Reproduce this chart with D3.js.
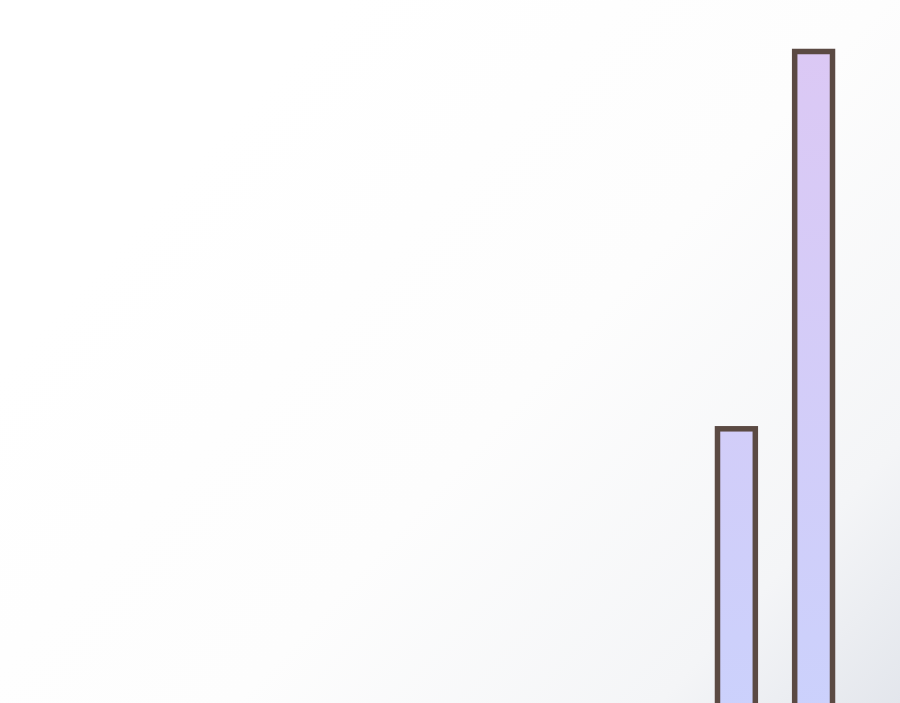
<!DOCTYPE html>
<html>
<head>
<meta charset="utf-8">
<script src="https://cdn.jsdelivr.net/npm/d3@7"></script>
<style>
html,body{margin:0;padding:0;overflow:hidden;background:#fff;}
</style>
</head>
<body>
<script>
const categories = ["A", "B"];
const values = [41.6, 95.5];

const W = 900, H = 703;
const svg = d3.select("body").append("svg").attr("width", W).attr("height", H);
const defs = svg.append("defs");

const bg = defs.append("linearGradient").attr("id", "bg")
  .attr("gradientUnits", "userSpaceOnUse")
  .attr("x1", 250).attr("y1", 100).attr("x2", 900).attr("y2", 703);
bg.append("stop").attr("offset", "0%").attr("stop-color", "#ffffff");
bg.append("stop").attr("offset", "45%").attr("stop-color", "#fdfdfd");
bg.append("stop").attr("offset", "80%").attr("stop-color", "#f4f5f7");
bg.append("stop").attr("offset", "100%").attr("stop-color", "#e3e6ec");
svg.append("rect").attr("width", W).attr("height", H).attr("fill", "url(#bg)");

const y = d3.scaleLinear().domain([0, 100]).range([720, 20]);
const x = d3.scaleBand().domain(categories).range([717.5, 832.5]).paddingInner(0.51).paddingOuter(0);

const fg = defs.append("linearGradient").attr("id", "bar")
  .attr("gradientUnits", "userSpaceOnUse")
  .attr("x1", 0).attr("x2", 0).attr("y1", y(100)).attr("y2", y(0));
fg.append("stop").attr("offset", "0%").attr("stop-color", "#dcc8f4");
fg.append("stop").attr("offset", "100%").attr("stop-color", "#cbd1fc");

svg.selectAll("rect.bar").data(categories).join("rect")
  .attr("class", "bar")
  .attr("x", d => x(d))
  .attr("width", x.bandwidth())
  .attr("y", (d, i) => y(values[i]))
  .attr("height", (d, i) => y(0) - y(values[i]))
  .attr("fill", "url(#bar)")
  .attr("stroke", "#5b4a43")
  .attr("stroke-width", 5.5);
</script>
</body>
</html>
